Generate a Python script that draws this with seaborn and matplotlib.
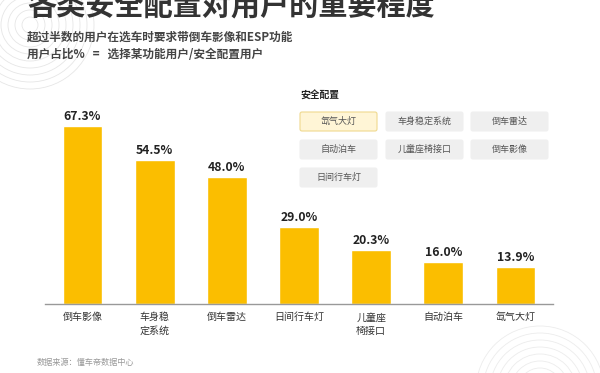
import matplotlib
matplotlib.use("Agg")
import matplotlib.pyplot as plt
from matplotlib.patches import FancyBboxPatch, Circle
import seaborn as sns
import pandas as pd

# data
categories = ["倒车影像", "车身稳\n定系统", "倒车雷达", "日间行车灯", "儿童座\n椅接口", "自动泊车", "氙气大灯"]
share_pct = [67.3, 54.5, 48.0, 29.0, 20.3, 16.0, 13.9]
legend_title = "安全配置"
legend_items = ["氙气大灯", "车身稳定系统", "倒车雷达", "自动泊车", "儿童座椅接口", "倒车影像", "日间行车灯"]
title = "各类安全配置对用户的重要程度"
subtitle_1 = "超过半数的用户在选车时要求带倒车影像和ESP功能"
subtitle_2 = "用户占比%   =   选择某功能用户/安全配置用户"
source = "数据来源：懂车帝数据中心"

BAR_COLOR = "#FBBE00"

sns.set_theme(style="white")
plt.rcParams["font.family"] = ["Noto Sans CJK SC", "DejaVu Sans"]

W, H = 600, 373
fig = plt.figure(figsize=(W / 100, H / 100), dpi=100)

# faint decorative rings (top-left, bottom-right)
deco = fig.add_axes([0, 0, 1, 1], zorder=0)
deco.set_xlim(0, W)
deco.set_ylim(H, 0)
deco.axis("off")
for r in range(8, 70, 7):
    deco.add_patch(Circle((30, 25), r, fill=False, ec="#e6e6e6", lw=0.6))
    deco.add_patch(Circle((540, 390), r, fill=False, ec="#ececec", lw=0.6))

# bar axes: baseline at y=304px, x from 45 to 553px
base_px = 304
ymax = 70
px_per_unit = 2.645
ax_h = ymax * px_per_unit
ax = fig.add_axes([45 / W, (H - base_px) / H, (553 - 45) / W, ax_h / H], zorder=1)
ax.patch.set_alpha(0)

df = pd.DataFrame({"feature": categories, "share": share_pct})
sns.barplot(data=df, x="feature", y="share", color=BAR_COLOR, saturation=1,
            width=0.55, ax=ax)
ax.set_xlim(-0.52, 6.52)
ax.set_ylim(0, ymax)
for i, v in enumerate(share_pct):
    ax.text(i, v + 1.2, f"{v:.1f}%", ha="center", va="bottom",
            fontsize=8.8, fontweight="bold", color="#222222")

ax.set_xlabel("")
ax.set_ylabel("")
ax.set_yticks([])
ax.tick_params(axis="x", length=0, pad=6, labelsize=7.2, labelcolor="#333333")
for lbl in ax.get_xticklabels():
    lbl.set_va("top")
    lbl.set_linespacing(1.45)
for s in ["top", "right", "left"]:
    ax.spines[s].set_visible(False)
ax.spines["bottom"].set_color("#999999")
ax.spines["bottom"].set_linewidth(1.0)

# header text (title sits partly above the top edge, as in the source image)
fig.text(27 / W, 1 - 5 / H, title, fontsize=21, fontweight="bold",
         color="#333333", ha="left", va="center")
fig.text(27 / W, 1 - 37 / H, subtitle_1, fontsize=8.4, fontweight="bold",
         color="#444444", ha="left", va="center")
fig.text(27 / W, 1 - 54 / H, subtitle_2, fontsize=8.4, fontweight="bold",
         color="#444444", ha="left", va="center")
fig.text(37 / W, 1 - 363 / H, source, fontsize=5.9, color="#999999",
         ha="left", va="center")

# legend panel drawn as button grid
leg = fig.add_axes([0, 0, 1, 1], zorder=2)
leg.set_xlim(0, W)
leg.set_ylim(H, 0)
leg.axis("off")
leg.text(300, 96, legend_title, fontsize=7, fontweight="bold", color="#222222",
         ha="left", va="center")
col_x = [300, 386, 471]
row_y = [112, 140, 168]
bw, bh = 77, 19
for k, name in enumerate(legend_items):
    r, c = divmod(k, 3)
    x0, y0 = col_x[c], row_y[r]
    if k == 0:
        fc, ec = "#FFF5D6", "#EFD98F"
    else:
        fc, ec = "#EFEFEF", "#EFEFEF"
    leg.add_patch(FancyBboxPatch((x0, y0), bw, bh, boxstyle="round,pad=0,rounding_size=2",
                                 fc=fc, ec=ec, lw=0.8))
    leg.text(x0 + bw / 2, y0 + bh / 2, name, fontsize=6.5, color="#555555",
             ha="center", va="center")

fig.savefig("out.png", dpi=100)
